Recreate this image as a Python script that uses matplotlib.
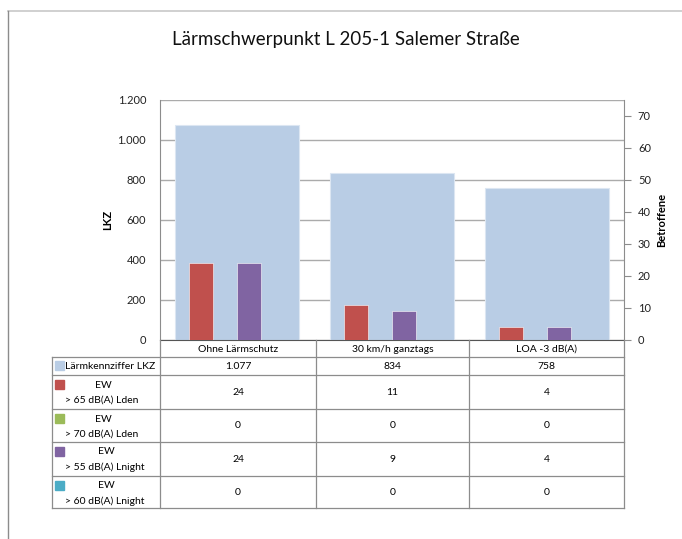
import matplotlib
matplotlib.use("Agg")
import matplotlib.pyplot as plt
from matplotlib.ticker import FuncFormatter, MultipleLocator
from matplotlib.patches import Rectangle

plt.rcParams['font.family'] = ['Lato', 'DejaVu Sans']

title = "Lärmschwerpunkt L 205-1 Salemer Straße"
categories = ["Ohne Lärmschutz", "30 km/h ganztags", "LOA -3 dB(A)"]
lkz = [1077, 834, 758]
lkz_label = "Lärmkennziffer LKZ"
ew_labels = [("EW", "> 65 dB(A) Lden"), ("EW", "> 70 dB(A) Lden"),
             ("EW", "> 55 dB(A) Lnight"), ("EW", "> 60 dB(A) Lnight")]
ew_values = [
    [24, 11, 4],
    [0, 0, 0],
    [24, 9, 4],
    [0, 0, 0],
]
ew_colors = ["#C0504D", "#9BBB59", "#8064A2", "#4BACC6"]
lkz_color = "#B9CDE5"

W, H = 682, 539
fig = plt.figure(figsize=(W / 100, H / 100), dpi=100)

# plot area in pixels
px_l, px_r, px_t, px_b = 160, 624, 100, 340
ax = fig.add_axes([px_l / W, 1 - px_b / H, (px_r - px_l) / W, (px_b - px_t) / H])

def de_fmt(v, pos=None):
    return f"{int(round(v)):,}".replace(",", ".")

xs = list(range(len(categories)))
ax.bar(xs, lkz, width=0.8, color=lkz_color, edgecolor="#DCE6F2", linewidth=0.8, zorder=2)
ax.set_xlim(-0.5, len(categories) - 0.5)
ax.set_ylim(0, 1200)
ax.yaxis.set_major_locator(MultipleLocator(200))
ax.yaxis.set_major_formatter(FuncFormatter(de_fmt))
ax.set_xticks([])
ax.grid(axis="y", color="#ABABAB", linewidth=1.0)
ax.set_axisbelow(True)
ax.tick_params(axis="y", length=0, pad=10, labelsize=8, labelcolor="#222222")
ax.spines["top"].set_visible(False)
ax.spines["right"].set_visible(False)
ax.spines["left"].set_color("#8C8C8C")
ax.spines["bottom"].set_color("#555555")
ax.set_ylabel("LKZ", fontsize=8, fontweight="bold", labelpad=3)

ax2 = ax.twinx()
bw = 0.155
for k, (vals, col) in enumerate(zip(ew_values, ew_colors)):
    off = (k - 1.5) * bw
    ax2.bar([x + off for x in xs], vals, width=bw, color=col,
            edgecolor="white", linewidth=0.4 if any(vals) else 0, zorder=3)
ax2.set_ylim(0, 75)
ax2.yaxis.set_major_locator(MultipleLocator(10))
ax2.tick_params(axis="y", length=5, width=0.8, color="#8C8C8C", pad=5,
                labelsize=8, labelcolor="#222222")
for s in ["top", "left", "bottom"]:
    ax2.spines[s].set_visible(False)
ax2.spines["right"].set_color("#8C8C8C")
ax2.set_ylabel("Betroffene", fontsize=8, fontweight="bold", labelpad=4)

# table overlay in pixel coords
ov = fig.add_axes([0, 0, 1, 1], facecolor="none")
ov.set_xlim(0, W)
ov.set_ylim(H, 0)
ov.axis("off")

gc = "#8C8C8C"
# outer chart frame
ov.plot([8, W], [11, 11], color="#C8C8C8", lw=1.2)
ov.plot([8, 8], [11, H], color="#8C8C8C", lw=1.0)

fig.text(0.5 + 5 / W, 1 - 40 / H, title, ha="center", va="center", fontsize=13.5, color="#111111")

col_x = [52, 160, 316, 469, 624]
row_y = [340, 357, 375, 409, 442, 476, 508]

# header vertical lines
for x in col_x[1:]:
    ov.plot([x, x], [row_y[0], row_y[-1]], color=gc, lw=0.9)
ov.plot([col_x[0], col_x[0]], [row_y[1], row_y[-1]], color=gc, lw=0.9)
for y in row_y[1:]:
    ov.plot([col_x[0], col_x[-1]], [y, y], color=gc, lw=0.9)

for i, cat in enumerate(categories):
    cx = (col_x[i + 1] + col_x[i + 2]) / 2
    ov.text(cx, (row_y[0] + row_y[1]) / 2 + 0.5, cat, ha="center", va="center", fontsize=7.5)
    ov.text(cx, (row_y[1] + row_y[2]) / 2 + 0.5, de_fmt(lkz[i]), ha="center", va="center", fontsize=7.5)

# LKZ legend row
ov.add_patch(Rectangle((55, 361), 9, 9, color=lkz_color))
ov.text(65, (row_y[1] + row_y[2]) / 2 + 0.5, lkz_label, ha="left", va="center", fontsize=7.5)

for r, ((l1, l2), vals, col) in enumerate(zip(ew_labels, ew_values, ew_colors)):
    y0, y1 = row_y[r + 2], row_y[r + 3]
    ov.add_patch(Rectangle((55, y0 + 5), 9, 9, color=col))
    ov.text(103 if r < 2 else 106, y0 + 10, l1, ha="center", va="center", fontsize=7.5)
    ov.text(65, y0 + 25, l2, ha="left", va="center", fontsize=7.5)
    for i, v in enumerate(vals):
        cx = (col_x[i + 1] + col_x[i + 2]) / 2
        ov.text(cx, (y0 + y1) / 2 + 0.5, str(v), ha="center", va="center", fontsize=7.5)

fig.savefig("out.png", dpi=100)
